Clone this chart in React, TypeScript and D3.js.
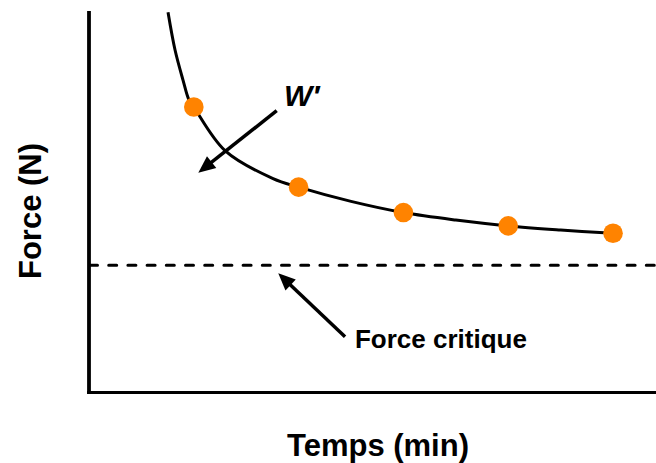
import React from "react";
import * as d3 from "d3";

// Measured points (time in arbitrary min units, force in arbitrary N units)
const pointT = [1, 2, 3, 4, 5];
const pointF = [224.5, 161.5, 141.5, 131, 125.2];

// Samples
const curveT = [0.754, 0.821, 0.897, 0.954, 1, 1.298, 1.756, 2, 2.5, 3, 3.5, 4, 4.5, 5];
const curveF = [299, 269.3, 245.7, 230, 224.5, 190.2, 168.2, 161.5, 150.3, 141.5, 135.6, 131, 127.8, 125.2];

// Critical force level
const criticalForce = 100;

// Labels
const xLabel = "Temps (min)";
const yLabel = "Force (N)";
const wLabel = "W\u2032";
const cfLabel = "Force critique";

const W = 656;
const H = 463;

export default function App() {
  const x = d3.scaleLinear().domain([0, 5.41]).range([89, 656]);
  const y = d3.scaleLinear().domain([0, 300]).range([392.5, 11]);

  const curvePts: [number, number][] = curveT.map((t, i) => [t, curveF[i]]);
  const line = d3
    .line<[number, number]>()
    .x((d) => x(d[0]))
    .y((d) => y(d[1]))
    .curve(d3.curveCatmullRom.alpha(0.5));

  const arrow = (x1: number, y1: number, x2: number, y2: number, key: string) => {
    const dx = x2 - x1;
    const dy = y2 - y1;
    const len = Math.sqrt(dx * dx + dy * dy);
    const ux = dx / len;
    const uy = dy / len;
    const headL = 17;
    const headW = 7.5;
    const bx = x2 - ux * headL;
    const by = y2 - uy * headL;
    const px = -uy;
    const py = ux;
    const pts = [
      [x2, y2],
      [bx + px * headW, by + py * headW],
      [bx - px * headW, by - py * headW],
    ]
      .map((p) => p.join(","))
      .join(" ");
    return (
      <g key={key}>
        <line x1={x1} y1={y1} x2={bx + ux * 2} y2={by + uy * 2} stroke="#000" strokeWidth={3.5} />
        <polygon points={pts} fill="#000" />
      </g>
    );
  };

  const font = "'Liberation Sans', Arial, Helvetica, sans-serif";

  return (
    <div>
      <style>{`body{margin:0}`}</style>
      <svg width={W} height={H} style={{ display: "block" }}>
        <rect x={0} y={0} width={W} height={H} fill="#fff" />
        {/* dashed critical force line */}
        <line
          x1={x(0) + 0.5}
          x2={W + 5}
          y1={y(criticalForce)}
          y2={y(criticalForce)}
          stroke="#000"
          strokeWidth={3}
          strokeDasharray="8 11.2"
          strokeLinecap="round"
        />
        {/* axes */}
        <line x1={x(0)} x2={x(0)} y1={y(300)} y2={y(0) + 1.5} stroke="#000" strokeWidth={3.8} />
        <line x1={x(0) - 1.9} x2={W} y1={y(0)} y2={y(0)} stroke="#000" strokeWidth={3} />
        {/* curve */}
        <path d={line(curvePts) || ""} fill="none" stroke="#000" strokeWidth={3} />
        {/* points */}
        {pointT.map((t, i) => (
          <circle key={i} cx={x(t)} cy={y(pointF[i])} r={9.8} fill="#FF8300" />
        ))}
        {/* arrows */}
        {arrow(x(1.791), y(221.6), x(1.043), y(172.8), "w")}
        {arrow(x(2.443), y(43.9), x(1.806), y(93.7), "cf")}
        {/* annotation labels */}
        <text
          x={x(1.86)}
          y={y(225.3)}
          fontFamily={font}
          fontWeight="bold"
          fontStyle="italic"
          fontSize={30}
          fill="#000"
        >
          {wLabel}
        </text>
        <text x={x(2.538)} y={y(35.3)} fontFamily={font} fontWeight="bold" fontSize={26} fill="#000">
          {cfLabel}
        </text>
        {/* axis titles */}
        <text
          x={378}
          y={456}
          textAnchor="middle"
          fontFamily={font}
          fontWeight="bold"
          fontSize={31}
          fill="#000"
        >
          {xLabel}
        </text>
        <text
          transform={`translate(41,211) rotate(-90)`}
          textAnchor="middle"
          fontFamily={font}
          fontWeight="bold"
          fontSize={31}
          fill="#000"
        >
          {yLabel}
        </text>
      </svg>
    </div>
  );
}
